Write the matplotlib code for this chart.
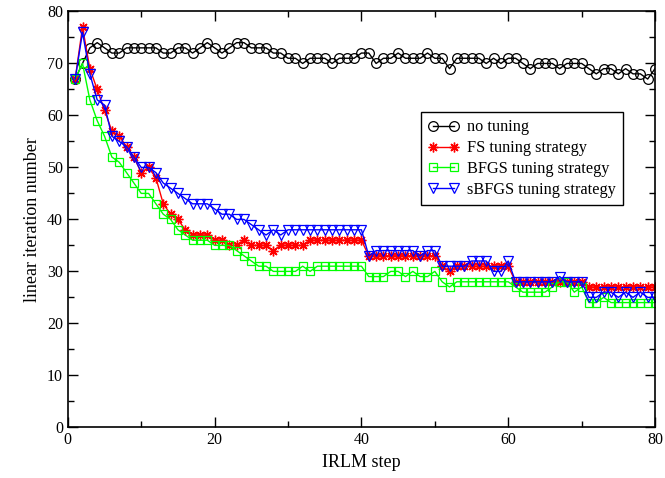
import numpy as np
import matplotlib
matplotlib.use('Agg')
import matplotlib.pyplot as plt
from matplotlib.ticker import MultipleLocator

plt.rcParams['font.family'] = ['Liberation Serif', 'DejaVu Serif']

# IRLM steps 1..80
steps = np.arange(1, 81)

no_tuning = [67, 70, 73, 74, 73, 72, 72, 73, 73, 73,
             73, 73, 72, 72, 73, 73, 72, 73, 74, 73,
             72, 73, 74, 74, 73, 73, 73, 72, 72, 71,
             71, 70, 71, 71, 71, 70, 71, 71, 71, 72,
             72, 70, 71, 71, 72, 71, 71, 71, 72, 71,
             71, 69, 71, 71, 71, 71, 70, 71, 70, 71,
             71, 70, 69, 70, 70, 70, 69, 70, 70, 70,
             69, 68, 69, 69, 68, 69, 68, 68, 67, 69]

fs_tuning = [67, 77, 69, 65, 61, 57, 56, 54, 52, 49,
             50, 48, 43, 41, 40, 38, 37, 37, 37, 36,
             36, 35, 35, 36, 35, 35, 35, 34, 35, 35,
             35, 35, 36, 36, 36, 36, 36, 36, 36, 36,
             33, 33, 33, 33, 33, 33, 33, 33, 33, 33,
             31, 30, 31, 31, 31, 31, 31, 31, 31, 31,
             28, 28, 28, 28, 28, 28, 28, 28, 28, 28,
             27, 27, 27, 27, 27, 27, 27, 27, 27, 27]

bfgs_tuning = [67, 70, 63, 59, 56, 52, 51, 49, 47, 45,
               45, 43, 41, 40, 38, 37, 36, 36, 36, 35,
               35, 35, 34, 33, 32, 31, 31, 30, 30, 30,
               30, 31, 30, 31, 31, 31, 31, 31, 31, 31,
               29, 29, 29, 30, 30, 29, 30, 29, 29, 30,
               28, 27, 28, 28, 28, 28, 28, 28, 28, 28,
               27, 26, 26, 26, 26, 27, 28, 28, 26, 27,
               24, 24, 25, 24, 24, 24, 24, 24, 24, 24]

sbfgs_tuning = [67, 76, 68, 63, 62, 56, 55, 54, 52, 50,
                50, 49, 47, 46, 45, 44, 43, 43, 43, 42,
                41, 41, 40, 40, 39, 38, 37, 38, 37, 38,
                38, 38, 38, 38, 38, 38, 38, 38, 38, 38,
                33, 34, 34, 34, 34, 34, 34, 33, 34, 34,
                31, 31, 31, 31, 32, 32, 32, 30, 30, 32,
                28, 28, 28, 28, 28, 28, 29, 28, 28, 28,
                25, 25, 26, 26, 25, 26, 25, 26, 25, 25]

fig = plt.figure(figsize=(6.65, 4.78), dpi=100)
ax = fig.add_axes([0.102, 0.106, 0.883, 0.870])

ax.plot(steps, no_tuning, color='black', linewidth=1.0, marker='o',
        markersize=7, markerfacecolor='none', markeredgecolor='black',
        markeredgewidth=0.9, label='no tuning')
ax.plot(steps, fs_tuning, color='red', linewidth=1.0, marker=(8, 2, 0),
        markersize=7, markeredgecolor='red', markeredgewidth=1.0,
        label='FS tuning strategy')
ax.plot(steps, bfgs_tuning, color='#00ff00', linewidth=1.0, marker='s',
        markersize=6, markerfacecolor='none', markeredgecolor='#00ff00',
        markeredgewidth=0.9, label='BFGS tuning strategy')
ax.plot(steps, sbfgs_tuning, color='blue', linewidth=1.0, marker='v',
        markersize=7, markerfacecolor='none', markeredgecolor='blue',
        markeredgewidth=0.9, label='sBFGS tuning strategy')

ax.set_xlim(0, 80)
ax.set_ylim(0, 80)
ax.xaxis.set_major_locator(MultipleLocator(20))
ax.xaxis.set_minor_locator(MultipleLocator(10))
ax.yaxis.set_major_locator(MultipleLocator(10))
ax.yaxis.set_minor_locator(MultipleLocator(5))
ax.tick_params(which='both', direction='in', top=True, right=True,
               labelsize=11.5, width=1.0)
ax.tick_params(which='major', length=7)
ax.tick_params(which='minor', length=4)
for sp in ax.spines.values():
    sp.set_linewidth(1.2)

ax.set_xlabel('IRLM step', fontsize=13)
ax.set_ylabel('linear iteration number', fontsize=13)

leg = ax.legend(loc='upper left', bbox_to_anchor=(0.6016, 0.758),
                numpoints=2, handlelength=1.9, fontsize=11.7,
                fancybox=False, framealpha=1, edgecolor='black',
                borderpad=0.45, labelspacing=0.3, handletextpad=0.45,
                borderaxespad=0)
leg.get_frame().set_linewidth(1.0)

fig.savefig('out.png', dpi=100)
